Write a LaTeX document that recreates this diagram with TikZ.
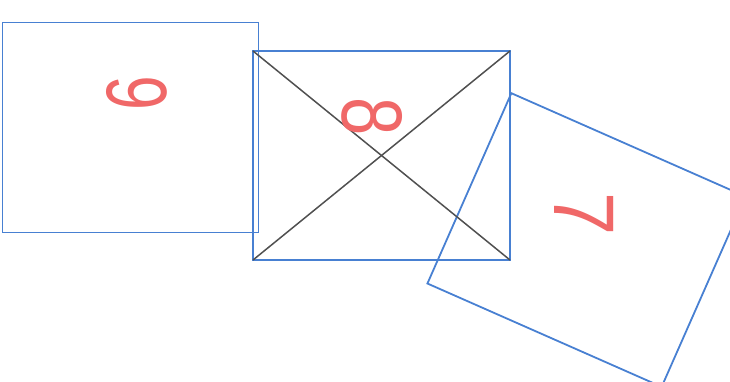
\documentclass[tikz,border=0pt]{standalone}
\usepackage{fontspec}
\setmainfont{Liberation Sans}
\definecolor{boxblue}{RGB}{72,128,210}
\definecolor{crossgray}{RGB}{80,80,80}
\definecolor{digitred}{RGB}{240,104,104}
\begin{document}
\begin{tikzpicture}[x=1pt,y=-1pt,
  panel/.style={draw=boxblue,line width=1.8pt,inner sep=0pt,outer sep=0pt},
  cross/.style={draw=crossgray,line width=1.5pt},
  digit/.style={text=digitred,font=\fontsize{86}{86}\selectfont,inner sep=0pt}]
\useasboundingbox (0,0) rectangle (730,382);
\clip (0,0) rectangle (730,382);
\node[panel,minimum width=256pt,minimum height=210pt] (left) at (130.5,127.5) {};
\node[panel,minimum width=257pt,minimum height=209pt] (mid) at (381.5,155.5) {};
\node[panel,minimum width=256pt,minimum height=208pt,rotate=-23.8] (right) at (586.5,240) {};
\draw[cross] (mid.north west) -- (mid.south east);
\draw[cross] (mid.south west) -- (mid.north east);
\node[digit,rotate=90,xscale=0.72] (six) at (137,93) {6};
\node[digit,rotate=-90,xscale=0.8] (eight) at (372,117) {8};
\node[digit,rotate=-90,xscale=0.9] (seven) at (584,214) {7};
\end{tikzpicture}
\end{document}
